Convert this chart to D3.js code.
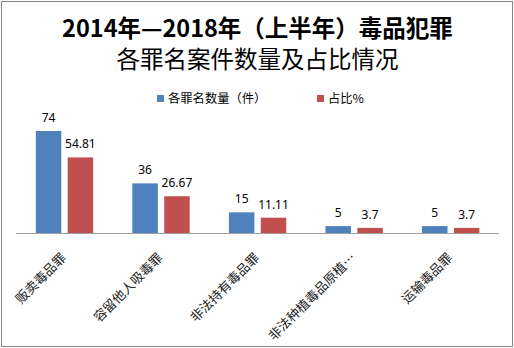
<!DOCTYPE html>
<html><head><meta charset="utf-8">
<script src="https://cdn.jsdelivr.net/npm/d3@7"></script>
<style>body{margin:0;background:#fff;}svg{display:block;}</style>
</head><body>
<script>
const categories = ["贩卖毒品罪","容留他人吸毒罪","非法持有毒品罪","非法种植毒品原植…","运输毒品罪"];
const countValues = [74, 36, 15, 5, 5];
const shareValues = [54.81, 26.67, 11.11, 3.7, 3.7];
const shareLabels = ["54.81","26.67","11.11","3.7","3.7"];
const seriesNames = ["各罪名数量（件）","占比%"];
const titleLines = ["2014年—2018年（上半年）毒品犯罪","各罪名案件数量及占比情况"];
const colors = ["#4F81BD","#C0504D"];

const W = 514, H = 348;
const svg = d3.select("body").append("svg").attr("width", W).attr("height", H);
svg.append("rect").attr("x",1.5).attr("y",1.5).attr("width",511).attr("height",345)
  .attr("fill","#fff").attr("stroke","#868686").attr("stroke-width",1);

const cjk = "'Noto Sans CJK SC','Noto Sans',sans-serif";
svg.append("text").attr("x",257.5).attr("y",37).attr("text-anchor","middle")
  .attr("font-family",cjk).attr("font-weight","bold").attr("font-size",23.5).attr("fill","#000")
  .text(titleLines[0]);
svg.append("text").attr("x",257.5).attr("y",68).attr("text-anchor","middle")
  .attr("font-family",cjk).attr("font-size",23.5).attr("fill","#000")
  .text(titleLines[1]);

// legend
const legX = [157, 317];
seriesNames.forEach((n,i)=>{
  svg.append("rect").attr("x",legX[i]).attr("y",95).attr("width",7).attr("height",7).attr("fill",colors[i]);
  svg.append("text").attr("x",legX[i]+11).attr("y",103).attr("font-family",cjk).attr("font-size",12.3)
    .attr("fill","#000").text(n);
});

const x0 = d3.scaleBand().domain(categories).range([16.2, 499]).paddingInner(0).paddingOuter(0);
const x1 = d3.scaleBand().domain([0,1]).range([19.6, 96.55-19.6]).paddingInner(0.2);
const y = d3.scaleLinear().domain([0,80]).range([233, 122.7]);

const data = categories.map((c,i)=>({c, v:[countValues[i], shareValues[i]], l:[String(countValues[i]), shareLabels[i]]}));
const g = svg.append("g");
data.forEach(d=>{
  [0,1].forEach(s=>{
    const bx = x0(d.c) + x1(s);
    g.append("rect").attr("x",bx).attr("y",y(d.v[s])).attr("width",x1.bandwidth())
      .attr("height",y(0)-y(d.v[s])).attr("fill",colors[s]);
    g.append("text").attr("x",bx + x1.bandwidth()/2).attr("y",y(d.v[s])-9)
      .attr("text-anchor","middle").attr("font-family","'Noto Sans',sans-serif").attr("font-size",12)
      .attr("fill","#000").text(d.l[s]);
  });
});

// axis
const axis = svg.append("g").attr("transform","translate(0,233)").call(d3.axisBottom(x0).tickSize(0).tickFormat(""));
axis.select(".domain").attr("stroke","#A0A0A0").attr("d","M16,0.5H499");

categories.forEach(c=>{
  const cx = x0(c) + x0.bandwidth()/2;
  svg.append("text").attr("transform",`translate(${cx+2.5},${258.5}) rotate(-45)`)
    .attr("text-anchor","end").attr("font-family",cjk).attr("font-size",13).attr("fill","#222")
    .text(c);
});
</script>
</body></html>
